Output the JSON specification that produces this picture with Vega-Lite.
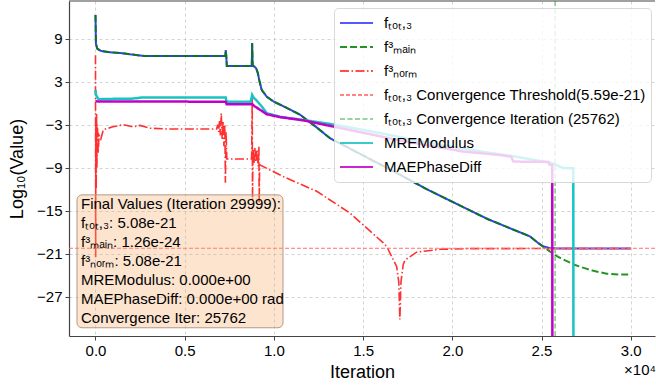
{
  "$schema": "https://vega.github.io/schema/vega-lite/v6.json",
  "autosize": "none",
  "width": 586,
  "height": 335,
  "padding": {"left": 69, "top": 1, "right": 1, "bottom": 51},
  "background": "white",
  "config": {
    "font": "Liberation Sans",
    "view": {"stroke": null},
    "axis": {
      "labelFont": "Liberation Sans", "labelFontSize": 15, "labelColor": "#000",
      "titleFont": "Liberation Sans", "titleFontSize": 18, "titleFontWeight": "normal", "titleColor": "#000",
      "domainColor": "#444", "domainWidth": 1.2, "tickColor": "#444", "tickSize": 4,
      "gridColor": "#c8c8c8", "gridDash": [3, 3], "gridWidth": 0.8
    }
  },
  "datasets": {
    "curves": [
      {"series": "tot", "iter": 0, "v": 12.3}, {"series": "tot", "iter": 25, "v": 8.3}, {"series": "tot", "iter": 100, "v": 7.6}, {"series": "tot", "iter": 300, "v": 7.3}, {"series": "tot", "iter": 800, "v": 7.1}, {"series": "tot", "iter": 1400, "v": 7.0}, {"series": "tot", "iter": 2000, "v": 6.8}, {"series": "tot", "iter": 2700, "v": 6.6}, {"series": "tot", "iter": 5000, "v": 6.6}, {"series": "tot", "iter": 7280, "v": 6.6}, {"series": "tot", "iter": 7300, "v": 7.4}, {"series": "tot", "iter": 7330, "v": 6.6}, {"series": "tot", "iter": 7360, "v": 5.2}, {"series": "tot", "iter": 8760, "v": 5.2}, {"series": "tot", "iter": 8780, "v": 8.4}, {"series": "tot", "iter": 8810, "v": 5.3}, {"series": "tot", "iter": 9000, "v": 4.9}, {"series": "tot", "iter": 9100, "v": 4.2}, {"series": "tot", "iter": 9180, "v": 3.2}, {"series": "tot", "iter": 9316, "v": 1.85}, {"series": "tot", "iter": 9600, "v": 0.9}, {"series": "tot", "iter": 10000, "v": 0.2}, {"series": "tot", "iter": 10510, "v": -0.4}, {"series": "tot", "iter": 11460, "v": -1.6}, {"series": "tot", "iter": 12300, "v": -3.2}, {"series": "tot", "iter": 13150, "v": -4.9}, {"series": "tot", "iter": 15000, "v": -7.3}, {"series": "tot", "iter": 17000, "v": -9.9}, {"series": "tot", "iter": 18560, "v": -12.0}, {"series": "tot", "iter": 19700, "v": -13.4}, {"series": "tot", "iter": 22000, "v": -16.2}, {"series": "tot", "iter": 24350, "v": -18.6}, {"series": "tot", "iter": 24800, "v": -19.5}, {"series": "tot", "iter": 25100, "v": -20.0}, {"series": "tot", "iter": 25500, "v": -20.25}, {"series": "tot", "iter": 26000, "v": -20.29}, {"series": "tot", "iter": 30000, "v": -20.29},

      {"series": "main", "iter": 0, "v": 12.3}, {"series": "main", "iter": 25, "v": 8.3}, {"series": "main", "iter": 100, "v": 7.6}, {"series": "main", "iter": 300, "v": 7.3}, {"series": "main", "iter": 800, "v": 7.1}, {"series": "main", "iter": 1400, "v": 7.0}, {"series": "main", "iter": 2000, "v": 6.8}, {"series": "main", "iter": 2700, "v": 6.6}, {"series": "main", "iter": 5000, "v": 6.6}, {"series": "main", "iter": 7280, "v": 6.6}, {"series": "main", "iter": 7300, "v": 7.4}, {"series": "main", "iter": 7330, "v": 6.6}, {"series": "main", "iter": 7360, "v": 5.2}, {"series": "main", "iter": 8760, "v": 5.2}, {"series": "main", "iter": 8780, "v": 8.4}, {"series": "main", "iter": 8810, "v": 5.3}, {"series": "main", "iter": 9000, "v": 4.9}, {"series": "main", "iter": 9100, "v": 4.2}, {"series": "main", "iter": 9180, "v": 3.2}, {"series": "main", "iter": 9316, "v": 1.85}, {"series": "main", "iter": 9600, "v": 0.9}, {"series": "main", "iter": 10000, "v": 0.2}, {"series": "main", "iter": 10510, "v": -0.4}, {"series": "main", "iter": 11460, "v": -1.6}, {"series": "main", "iter": 12300, "v": -3.2}, {"series": "main", "iter": 13150, "v": -4.9}, {"series": "main", "iter": 15000, "v": -7.3}, {"series": "main", "iter": 17000, "v": -9.9}, {"series": "main", "iter": 18560, "v": -12.0}, {"series": "main", "iter": 19700, "v": -13.4}, {"series": "main", "iter": 22000, "v": -16.2}, {"series": "main", "iter": 24350, "v": -18.6}, {"series": "main", "iter": 24900, "v": -19.7}, {"series": "main", "iter": 25300, "v": -20.4}, {"series": "main", "iter": 25760, "v": -21.2}, {"series": "main", "iter": 26200, "v": -21.8}, {"series": "main", "iter": 26880, "v": -22.6}, {"series": "main", "iter": 27500, "v": -23.1}, {"series": "main", "iter": 27900, "v": -23.4}, {"series": "main", "iter": 28650, "v": -23.8}, {"series": "main", "iter": 29300, "v": -23.9}, {"series": "main", "iter": 30000, "v": -23.9},

      {"series": "norm", "iter": 0, "v": 6.7}, {"series": "norm", "iter": 10, "v": -21.5}, {"series": "norm", "iter": 20, "v": -2.0}, {"series": "norm", "iter": 40, "v": -12.0}, {"series": "norm", "iter": 60, "v": -1.5}, {"series": "norm", "iter": 80, "v": -9.0}, {"series": "norm", "iter": 110, "v": -3.0}, {"series": "norm", "iter": 150, "v": -7.0}, {"series": "norm", "iter": 200, "v": -4.5}, {"series": "norm", "iter": 300, "v": -5.0}, {"series": "norm", "iter": 440, "v": -3.7}, {"series": "norm", "iter": 980, "v": -3.3}, {"series": "norm", "iter": 1560, "v": -3.0}, {"series": "norm", "iter": 2100, "v": -3.3}, {"series": "norm", "iter": 2300, "v": -3.2}, {"series": "norm", "iter": 2500, "v": -3.1}, {"series": "norm", "iter": 3050, "v": -3.5}, {"series": "norm", "iter": 4000, "v": -3.6}, {"series": "norm", "iter": 6790, "v": -3.6}, {"series": "norm", "iter": 6850, "v": -3.0}, {"series": "norm", "iter": 6900, "v": -4.0}, {"series": "norm", "iter": 6950, "v": -2.5}, {"series": "norm", "iter": 7000, "v": -4.5}, {"series": "norm", "iter": 7050, "v": -1.4}, {"series": "norm", "iter": 7100, "v": -5.0}, {"series": "norm", "iter": 7150, "v": -2.5}, {"series": "norm", "iter": 7200, "v": -6.0}, {"series": "norm", "iter": 7250, "v": -3.0}, {"series": "norm", "iter": 7280, "v": -11.1}, {"series": "norm", "iter": 7320, "v": -4.0}, {"series": "norm", "iter": 7360, "v": -7.8}, {"series": "norm", "iter": 8750, "v": -7.8}, {"series": "norm", "iter": 8785, "v": 0.9}, {"series": "norm", "iter": 8800, "v": -13.5}, {"series": "norm", "iter": 8830, "v": -6.5}, {"series": "norm", "iter": 8880, "v": -8.5}, {"series": "norm", "iter": 8930, "v": -6.2}, {"series": "norm", "iter": 8990, "v": -8.2}, {"series": "norm", "iter": 9050, "v": -6.5}, {"series": "norm", "iter": 9120, "v": -8.8}, {"series": "norm", "iter": 9160, "v": -6.1}, {"series": "norm", "iter": 9175, "v": -13.9}, {"series": "norm", "iter": 9200, "v": -8.6}, {"series": "norm", "iter": 10526, "v": -10.25}, {"series": "norm", "iter": 12400, "v": -12.3}, {"series": "norm", "iter": 14265, "v": -15.35}, {"series": "norm", "iter": 16130, "v": -19.5}, {"series": "norm", "iter": 16320, "v": -20.0}, {"series": "norm", "iter": 16880, "v": -22.8}, {"series": "norm", "iter": 17000, "v": -25.0}, {"series": "norm", "iter": 17060, "v": -30.2}, {"series": "norm", "iter": 17120, "v": -25.0}, {"series": "norm", "iter": 17250, "v": -22.5}, {"series": "norm", "iter": 17350, "v": -21.9}, {"series": "norm", "iter": 18000, "v": -20.8}, {"series": "norm", "iter": 19300, "v": -20.4}, {"series": "norm", "iter": 21000, "v": -20.3}, {"series": "norm", "iter": 30000, "v": -20.29},

      {"series": "mre", "iter": 0, "v": 1.84}, {"series": "mre", "iter": 20, "v": 1.2}, {"series": "mre", "iter": 160, "v": 0.55}, {"series": "mre", "iter": 1000, "v": 0.6}, {"series": "mre", "iter": 1930, "v": 0.6}, {"series": "mre", "iter": 2660, "v": 0.8}, {"series": "mre", "iter": 7300, "v": 0.8}, {"series": "mre", "iter": 7350, "v": 0.2}, {"series": "mre", "iter": 8700, "v": 0.2}, {"series": "mre", "iter": 8780, "v": 1.15}, {"series": "mre", "iter": 8850, "v": 0.8}, {"series": "mre", "iter": 9000, "v": 0.45}, {"series": "mre", "iter": 9330, "v": -0.5}, {"series": "mre", "iter": 9600, "v": -1.4}, {"series": "mre", "iter": 10340, "v": -1.9}, {"series": "mre", "iter": 11500, "v": -2.3}, {"series": "mre", "iter": 13150, "v": -2.9}, {"series": "mre", "iter": 14500, "v": -3.5}, {"series": "mre", "iter": 16000, "v": -4.2}, {"series": "mre", "iter": 18000, "v": -5.2}, {"series": "mre", "iter": 20000, "v": -6.1}, {"series": "mre", "iter": 22000, "v": -6.9}, {"series": "mre", "iter": 23400, "v": -7.4}, {"series": "mre", "iter": 25000, "v": -8.1}, {"series": "mre", "iter": 25300, "v": -8.2}, {"series": "mre", "iter": 25700, "v": -8.5}, {"series": "mre", "iter": 26200, "v": -9.05}, {"series": "mre", "iter": 26780, "v": -9.1}, {"series": "mre", "iter": 26790, "v": -40},

      {"series": "mae", "iter": 0, "v": 0.25}, {"series": "mae", "iter": 7300, "v": 0.2}, {"series": "mae", "iter": 7350, "v": -0.15}, {"series": "mae", "iter": 8790, "v": -0.15}, {"series": "mae", "iter": 8900, "v": -0.4}, {"series": "mae", "iter": 9390, "v": -1.2}, {"series": "mae", "iter": 9600, "v": -1.55}, {"series": "mae", "iter": 10340, "v": -1.95}, {"series": "mae", "iter": 11650, "v": -2.4}, {"series": "mae", "iter": 13200, "v": -3.2}, {"series": "mae", "iter": 16880, "v": -5.1}, {"series": "mae", "iter": 20620, "v": -6.76}, {"series": "mae", "iter": 22490, "v": -7.2}, {"series": "mae", "iter": 23000, "v": -7.35}, {"series": "mae", "iter": 23300, "v": -7.5}, {"series": "mae", "iter": 23420, "v": -8.15}, {"series": "mae", "iter": 25400, "v": -8.2}, {"series": "mae", "iter": 25450, "v": -8.6}, {"series": "mae", "iter": 25600, "v": -8.6}, {"series": "mae", "iter": 25610, "v": -40}
    ],
    "refs": [
      {"series": "thr", "v": -20.25},
      {"series": "conv", "iter": 25762}
    ],
    "notes": [
      {"kind": "box"}
    ]
  },
  "layer": [
    {
      "encoding": {
        "x": {"field": "iter", "type": "quantitative",
          "scale": {"domain": [-1485, 31360], "nice": false, "zero": false},
          "axis": {"title": "Iteration", "values": [0, 5000, 10000, 15000, 20000, 25000, 30000],
            "labelExpr": "format(datum.value / 10000, '.1f')", "labelPadding": 3, "titlePadding": 5}},
        "y": {"field": "v", "type": "quantitative",
          "scale": {"domain": [-32.5, 14.26], "nice": false, "zero": false},
          "axis": {"title": "Log₁₀(Value)", "values": [9, 3, -3, -9, -15, -21, -27], "format": "d", "labelPadding": 3, "titlePadding": 10}},
        "color": {"field": "series", "type": "nominal",
          "scale": {"domain": ["tot", "main", "norm", "thr", "conv", "mre", "mae"],
            "range": ["#3a3aff", "#008000", "#ff3030", "#ff7070", "#8fc98f", "#17c3c3", "#c000c8"]},
          "legend": {"title": null, "orient": "none", "legendX": 265, "legendY": 7,
            "symbolType": "stroke", "symbolSize": 1089, "symbolStrokeWidth": 2, "clipHeight": 20,
            "labelFontSize": 15, "labelFont": "Liberation Sans", "labelColor": "#000",
            "rowPadding": 4, "padding": 5, "fillColor": "rgba(255,255,255,0.8)", "strokeColor": "#d8d8d8", "cornerRadius": 4,
            "labelLimit": 400, "labelOffset": 10,
            "labelExpr": "datum.value == 'tot' ? 'fₜₒₜ,₃' : datum.value == 'main' ? 'f³ₘₐᵢₙ' : datum.value == 'norm' ? 'f³ₙₒᵣₘ' : datum.value == 'thr' ? 'fₜₒₜ,₃ Convergence Threshold(5.59e-21)' : datum.value == 'conv' ? 'fₜₒₜ,₃ Convergence Iteration (25762)' : datum.value == 'mre' ? 'MREModulus' : 'MAEPhaseDiff'"}},
        "strokeDash": {"field": "series", "type": "nominal",
          "scale": {"domain": ["tot", "main", "norm", "thr", "conv", "mre", "mae"],
            "range": [[1, 0], [7, 3], [9, 2.5, 1.5, 2.5], [4, 2], [5, 2.5], [1, 0], [1, 0]]},
          "legend": null}
      },
      "layer": [
        {"data": {"name": "curves"}, "transform": [{"filter": "datum.series == 'tot'"}],
          "mark": {"type": "line", "strokeWidth": 2, "clip": true}},
        {"data": {"name": "curves"}, "transform": [{"filter": "datum.series == 'main'"}],
          "mark": {"type": "line", "strokeWidth": 2, "opacity": 0.85, "clip": true}},
        {"data": {"name": "curves"}, "transform": [{"filter": "datum.series == 'norm'"}],
          "mark": {"type": "line", "strokeWidth": 1.6, "clip": true}},
        {"data": {"name": "refs"}, "transform": [{"filter": "datum.series == 'thr'"}],
          "mark": {"type": "rule", "strokeWidth": 1.2},
          "encoding": {"x": null}},
        {"data": {"name": "refs"}, "transform": [{"filter": "datum.series == 'conv'"}],
          "mark": {"type": "rule", "strokeWidth": 1.6},
          "encoding": {"y": null}},
        {"data": {"name": "curves"}, "transform": [{"filter": "datum.series == 'mre'"}],
          "mark": {"type": "line", "strokeWidth": 2.5, "clip": true}},
        {"data": {"name": "curves"}, "transform": [{"filter": "datum.series == 'mae'"}],
          "mark": {"type": "line", "strokeWidth": 2.5, "clip": true}}
      ]
    },
    {"data": {"name": "notes"},
      "mark": {"type": "rule", "color": "#444", "strokeWidth": 1.2},
      "encoding": {
        "x": {"datum": -1485, "type": "quantitative", "scale": {"domain": [-1485, 31360], "nice": false, "zero": false}},
        "x2": {"datum": 31360},
        "y": {"datum": 14.26, "type": "quantitative", "scale": {"domain": [-32.5, 14.26], "nice": false, "zero": false}}}},
    {"data": {"name": "notes"},
      "mark": {"type": "rect", "cornerRadius": 5, "fill": "#f4a460", "fillOpacity": 0.3, "stroke": "#b59a88", "strokeWidth": 1},
      "encoding": {
        "x": {"datum": -1037, "type": "quantitative", "scale": {"domain": [-1485, 31360], "nice": false, "zero": false}},
        "x2": {"datum": 10510},
        "y": {"datum": -12.8, "type": "quantitative", "scale": {"domain": [-32.5, 14.26], "nice": false, "zero": false}},
        "y2": {"datum": -31.35}}},
    {"data": {"name": "notes"},
      "mark": {"type": "text", "align": "left", "baseline": "top", "fontSize": 15, "lineHeight": 19, "color": "#000", "font": "Liberation Sans",
        "text": ["Final Values (Iteration 29999):", "fₜₒₜ,₃: 5.08e-21", "f³ₘₐᵢₙ: 1.26e-24", "f³ₙₒᵣₘ: 5.08e-21", "MREModulus: 0.000e+00", "MAEPhaseDiff: 0.000e+00 rad", "Convergence Iter: 25762"]},
      "encoding": {
        "x": {"datum": -813, "type": "quantitative", "scale": {"domain": [-1485, 31360], "nice": false, "zero": false}},
        "y": {"datum": -13.1, "type": "quantitative", "scale": {"domain": [-32.5, 14.26], "nice": false, "zero": false}}}},
    {"data": {"name": "notes"},
      "mark": {"type": "text", "align": "right", "baseline": "middle", "fontSize": 15, "color": "#000", "font": "Liberation Sans", "clip": false, "text": "×10⁴"},
      "encoding": {
        "x": {"datum": 31416, "type": "quantitative", "scale": {"domain": [-1485, 31360], "nice": false, "zero": false}},
        "y": {"datum": -37.2, "type": "quantitative", "scale": {"domain": [-32.5, 14.26], "nice": false, "zero": false}}}}
  ]
}
